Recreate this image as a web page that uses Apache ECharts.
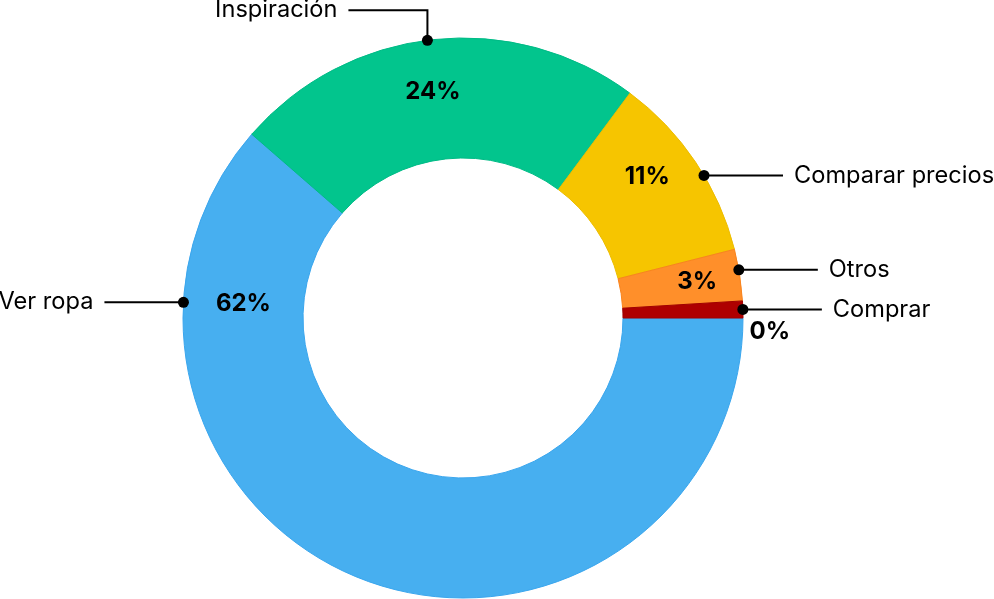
<!DOCTYPE html>
<html><head><meta charset="utf-8">
<script src="https://cdn.jsdelivr.net/npm/echarts@6/dist/echarts.min.js"></script>
<style>html,body{margin:0;padding:0;background:#fff}#c{width:994px;height:599px}</style>
</head><body><div id="c"></div>
<script>
// ---- data ----
const categories = ['Ver ropa', 'Inspiración', 'Comparar precios', 'Otros', 'Comprar'];
const values = [62, 24, 11, 3, 0.4];

// ---- style ----
const colors = ['#47AFF0', '#02C58D', '#F6C500', '#FF8F2A', '#AE0000'];
const borderColors = ['#3AA6EE', '#00BB86', '#EDBD00', '#F9841E', '#A00000'];
const CX = 463, CY = 318, R0 = 160, R = 280;
const FONT = 'Inter, "Noto Sans", sans-serif';
// label placement tweaks (degrees CCW from 3 o'clock)
const labelPlacement = {
  0: { outside: 176.8, inside: 176.3, radius: 220 },
  1: { outside: 97.3, inside: 97.6, radius: 228 },
  2: { outside: 30.6, inside: 37.4, radius: 232 },
  3: { outside: 9.9, radius: 237 }
};
const insideLabelRadius = 229;
const sum = values.reduce((a, b) => a + b, 0);

function outsideAnchor(i) {
  const o = labelPlacement[i];
  if (!o || o.outside == null) return null;
  const a = o.outside * Math.PI / 180;
  return [CX + R * Math.cos(a), CY - R * Math.sin(a)];
}

const dataItems = categories.map((n, i) => ({
  name: n, value: values[i],
  itemStyle: { color: colors[i], borderColor: borderColors[i], borderWidth: 1 }
}));
const ghostItems = categories.map((n, i) => ({ name: n, value: values[i] }));

const common = {
  type: 'pie', center: [CX, CY], radius: [R0, R], startAngle: 0, clockwise: true,
  minAngle: 3.5, avoidLabelOverlap: false
};

const chart = echarts.init(document.getElementById('c'), null, { renderer: 'canvas' });
chart.setOption({
  animation: false,
  backgroundColor: '#ffffff',
  series: [
    Object.assign({}, common, {
      z: 2,
      data: dataItems,
      label: {
        show: true, position: 'inside',
        formatter: function (p) { return Math.round(p.percent) + '%'; },
        fontFamily: FONT, fontSize: 24, fontWeight: 'bold', color: '#000000'
      },
      labelLine: { show: false },
      emphasis: { disabled: true },
      labelLayout: function (p) {
        const i = p.dataIndex;
        if (values[i] / sum * 100 < 1) {
          return { x: p.rect.x + p.rect.width + 6, y: p.rect.y + p.rect.height + 13, align: 'left', verticalAlign: 'middle' };
        }
        const o = labelPlacement[i] || {};
        const rr = o.radius || insideLabelRadius;
        let ang;
        if (o.inside != null) ang = o.inside * Math.PI / 180;
        else {
          const lr = p.labelRect;
          const mx = lr.x + lr.width / 2, my = lr.y + lr.height / 2;
          ang = Math.atan2(CY - my, mx - CX);
        }
        return { x: CX + rr * Math.cos(ang), y: CY - rr * Math.sin(ang), align: 'center', verticalAlign: 'middle' };
      }
    }),
    Object.assign({}, common, {
      z: 3, silent: true,
      data: ghostItems,
      itemStyle: { color: 'rgba(0,0,0,0)', borderWidth: 0 },
      label: { show: true, position: 'outside', formatter: '{b}', fontFamily: FONT, fontSize: 23.6, color: '#000000' },
      labelLine: { show: true, length: 20, length2: 20, lineStyle: { color: '#000000', width: 2 } },
      emphasis: { disabled: true },
      labelLayout: function (p) {
        const pts = p.labelLinePoints;
        if (!pts) return {};
        const a = outsideAnchor(p.dataIndex) || pts[0];
        const dx = a[0] - CX, dy = CY - a[1];
        const ang = Math.atan2(dy, dx);
        const left = dx < 0;
        const seg = 79, gap = 11;
        let p1, p2;
        if (Math.abs(Math.sin(ang)) > 0.95) {
          p1 = [a[0], a[1] - 30];
          p2 = [p1[0] + (left ? -seg : seg), p1[1]];
        } else {
          p1 = [a[0], a[1]];
          p2 = [a[0] + (left ? -seg : seg), a[1]];
        }
        return {
          x: p2[0] + (left ? -gap : gap), y: p2[1],
          align: left ? 'right' : 'left', verticalAlign: 'middle',
          labelLinePoints: [a, p1, p2]
        };
      }
    }),
    Object.assign({}, common, {
      z: 4, silent: true,
      data: ghostItems,
      itemStyle: { color: 'rgba(0,0,0,0)', borderWidth: 0 },
      label: {
        show: true, position: 'outside', formatter: '{d|}',
        rich: { d: { width: 11, height: 11, borderRadius: 5.5, backgroundColor: '#000000' } }
      },
      labelLine: { show: true, length: 5, length2: 5, lineStyle: { color: 'rgba(0,0,0,0)', width: 0 } },
      emphasis: { disabled: true },
      labelLayout: function (p) {
        const pts = p.labelLinePoints;
        if (!pts) return {};
        const a = outsideAnchor(p.dataIndex) || pts[0];
        return { x: a[0], y: a[1], align: 'center', verticalAlign: 'middle' };
      }
    })
  ]
});
</script>
</body></html>
